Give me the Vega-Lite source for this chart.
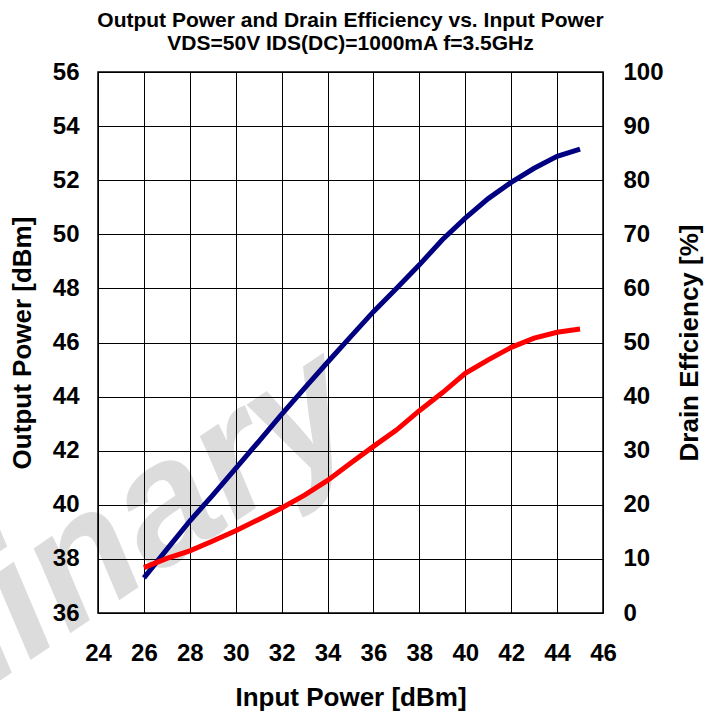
{
  "$schema": "https://vega.github.io/schema/vega-lite/v6.json",
  "width": 505,
  "height": 541,
  "autosize": {"type": "none"},
  "padding": {"left": 98, "top": 72, "right": 112, "bottom": 102},
  "background": "white",
  "title": {
    "text": "Output Power and Drain Efficiency vs. Input Power",
    "subtitle": "VDS=50V IDS(DC)=1000mA f=3.5GHz",
    "font": "Liberation Sans",
    "fontSize": 21,
    "fontWeight": "bold",
    "color": "black",
    "subtitleFont": "Liberation Sans",
    "subtitleFontSize": 21,
    "subtitleFontWeight": "bold",
    "subtitleColor": "black",
    "subtitlePadding": 2,
    "anchor": "middle",
    "offset": 6
  },
  "config": {
    "view": {"stroke": "black", "strokeWidth": 1.5},
    "axis": {
      "labelFont": "Liberation Sans",
      "labelFontSize": 24,
      "labelFontWeight": "bold",
      "labelColor": "black",
      "titleFont": "Liberation Sans",
      "titleFontSize": 26,
      "titleFontWeight": "bold",
      "titleColor": "black",
      "ticks": false,
      "domain": false,
      "labelFlush": false,
      "gridColor": "black",
      "gridOpacity": 1,
      "gridWidth": 1
    }
  },
  "data": {
    "values": [
      {"pin": 26, "pout": 37.3, "eff": 8.4},
      {"pin": 27, "pout": 38.35, "eff": 10.1},
      {"pin": 28, "pout": 39.4, "eff": 11.5},
      {"pin": 29, "pout": 40.36, "eff": 13.3},
      {"pin": 30, "pout": 41.35, "eff": 15.2},
      {"pin": 31, "pout": 42.34, "eff": 17.3},
      {"pin": 32, "pout": 43.34, "eff": 19.4},
      {"pin": 33, "pout": 44.31, "eff": 21.8},
      {"pin": 34, "pout": 45.27, "eff": 24.5},
      {"pin": 35, "pout": 46.21, "eff": 27.7},
      {"pin": 36, "pout": 47.14, "eff": 30.8},
      {"pin": 37, "pout": 48.0, "eff": 33.8},
      {"pin": 38, "pout": 48.87, "eff": 37.4},
      {"pin": 39, "pout": 49.8, "eff": 40.7},
      {"pin": 40, "pout": 50.6, "eff": 44.3},
      {"pin": 41, "pout": 51.32, "eff": 46.8},
      {"pin": 42, "pout": 51.92, "eff": 49.1},
      {"pin": 43, "pout": 52.44, "eff": 50.8},
      {"pin": 44, "pout": 52.88, "eff": 51.9},
      {"pin": 45, "pout": 53.15, "eff": 52.5}
    ]
  },
  "layer": [
    {
      "data": {"values": [{"label": "Preliminary"}]},
      "mark": {
        "type": "text",
        "font": "Liberation Sans",
        "fontWeight": "bold",
        "fontStyle": "italic",
        "fontSize": 172,
        "angle": 326,
        "align": "right",
        "baseline": "alphabetic",
        "fill": "black",
        "opacity": 0.135,
        "clip": false
      },
      "encoding": {
        "x": {
          "datum": 35.8,
          "type": "quantitative",
          "scale": {"domain": [24, 46], "nice": false, "zero": false},
          "axis": {
            "values": [24, 26, 28, 30, 32, 34, 36, 38, 40, 42, 44, 46],
            "title": "Input Power [dBm]",
            "grid": true,
            "labelPadding": 28,
            "titlePadding": 19
          }
        },
        "y": {
          "datum": 42.7,
          "type": "quantitative",
          "scale": {"domain": [36, 56], "nice": false, "zero": false},
          "axis": null
        },
        "text": {"field": "label", "type": "nominal"}
      }
    },
    {
      "mark": {"type": "line", "color": "#000080", "strokeWidth": 5},
      "encoding": {
        "x": {"field": "pin", "type": "quantitative"},
        "y": {
          "field": "pout",
          "type": "quantitative",
          "scale": {"domain": [36, 56], "nice": false, "zero": false},
          "axis": {
            "orient": "left",
            "values": [36, 38, 40, 42, 44, 46, 48, 50, 52, 54, 56],
            "title": "Output Power [dBm]",
            "grid": true,
            "labelPadding": 19,
            "titlePadding": 17
          }
        }
      }
    },
    {
      "mark": {"type": "line", "color": "#ff0000", "strokeWidth": 5},
      "encoding": {
        "x": {"field": "pin", "type": "quantitative"},
        "y": {
          "field": "eff",
          "type": "quantitative",
          "scale": {"domain": [0, 100], "nice": false},
          "axis": {
            "orient": "right",
            "values": [0, 10, 20, 30, 40, 50, 60, 70, 80, 90, 100],
            "grid": false,
            "title": "Drain Effciency [%]",
            "titleAngle": 270,
            "titleBaseline": "top",
            "labelPadding": 20,
            "titlePadding": 13
          }
        }
      }
    }
  ],
  "resolve": {"scale": {"y": "independent"}, "axis": {"y": "independent"}}
}
